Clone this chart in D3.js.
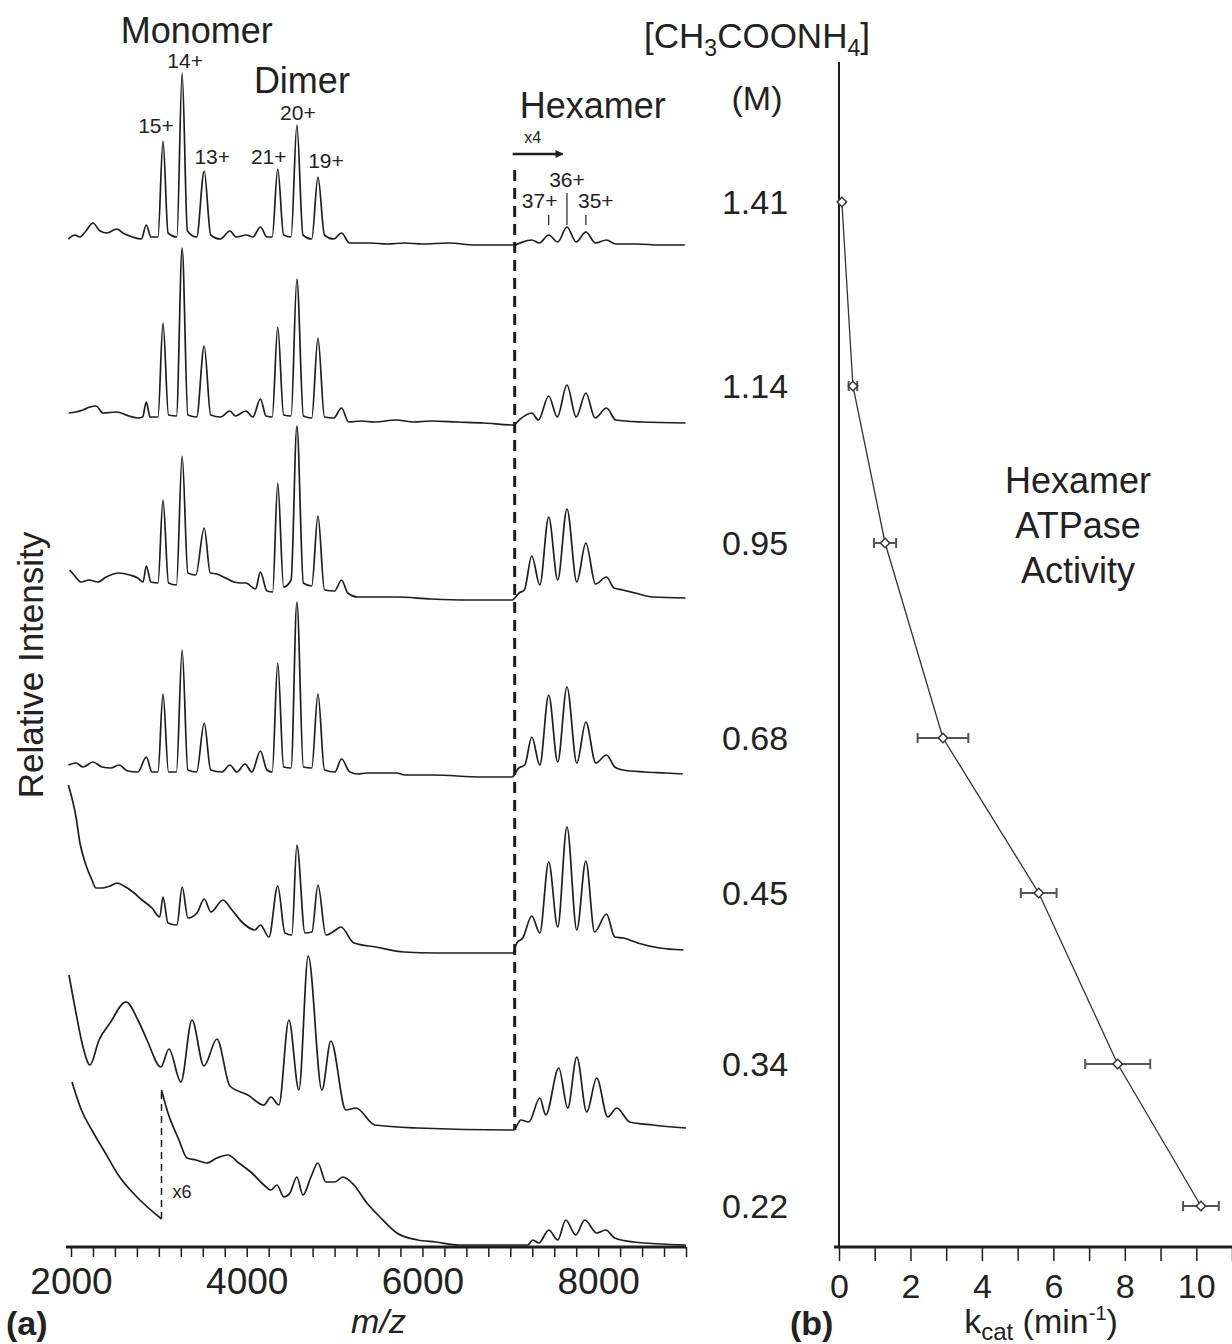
<!DOCTYPE html>
<html>
<head>
<meta charset="utf-8">
<script src="https://cdn.jsdelivr.net/npm/d3@7"></script>
<style>
  body { margin: 0; background: #fff; }
  text { font-family: "Liberation Sans", Arial, Helvetica, sans-serif; fill: #222; }
</style>
</head>
<body>
<svg id="fig" width="1232" height="1344"></svg>
<script>
// ------------------------------------------------------------
// Data
// spectra: [m/z, relative intensity] ; hexamer region (> 7050) is shown x4
// ------------------------------------------------------------
var concLabels = ["1.41", "1.14", "0.95", "0.68", "0.45", "0.34", "0.22"];

var spec141 = [[1970,3],[2045,5],[2100,4],[2170,7],[2250,11],[2330,7],[2410,6],[2520,8],[2590,6],[2700,4],[2800,3],[2857,10],[2910,4],[2990,4],[3047,52],[3105,6],[3205,4],[3265,86],[3325,7],[3430,4],[3516,37],[3590,5],[3700,3],[3809,7],[3880,4],[4000,5],[4070,4],[4156,9],[4230,4],[4290,4],[4353,38],[4420,5],[4505,4],[4571,60],[4640,5],[4740,3],[4811,34],[4885,5],[4990,3],[5079,6],[5170,1],[5400,1],[5600,0.5],[5800,1],[6000,0.5],[6300,1],[6600,0],[7050,0],[7110,1],[7245,2.5],[7330,1],[7437,5],[7540,1.5],[7645,9],[7750,1.5],[7860,6.5],[7970,1],[8095,2.5],[8200,0.5],[8450,0.5],[8700,0],[8985,0]];

var spec114 = [[1975,5],[2055,5.5],[2135,6.5],[2215,8],[2285,8.5],[2365,5],[2520,5.5],[2660,3.5],[2760,2.5],[2815,3],[2857,10.5],[2900,3],[2990,3],[3047,50],[3110,4],[3200,3.5],[3265,87.5],[3330,4],[3430,3],[3516,38.5],[3590,4],[3700,3],[3809,6],[3870,3.5],[3990,6],[4070,3],[4156,12],[4220,3.5],[4290,3],[4353,48],[4420,4],[4505,3.5],[4571,72],[4645,3.5],[4740,2.5],[4811,42.5],[4885,3],[4990,2.5],[5079,7.5],[5160,0.5],[5300,1],[5450,0.5],[5700,1.5],[5900,0.5],[6100,1],[6400,0.5],[6700,0],[7040,-1],[7100,1.5],[7245,5],[7320,1.5],[7437,13.5],[7535,3],[7645,19],[7750,3],[7860,15],[7965,2.5],[8095,7.5],[8200,1.5],[8500,0.5],[8995,0]];

var spec095 = [[1985,15],[2035,12.5],[2115,9],[2205,10],[2305,9],[2400,11.5],[2545,13.5],[2670,12.5],[2760,11],[2820,9],[2857,17],[2910,9],[2990,8.5],[3047,50],[3110,8.5],[3200,7.5],[3265,72],[3330,13.5],[3420,12.5],[3516,36],[3585,13.5],[3660,13],[3760,11],[3855,9],[3935,8.5],[3990,8.5],[4100,5.5],[4156,14],[4230,4.5],[4295,4],[4353,58.5],[4420,6.5],[4505,10],[4571,87],[4645,8.5],[4740,7],[4811,42],[4885,5],[5000,4.5],[5079,10],[5150,3.5],[5265,1.5],[5500,1.5],[5700,1.5],[6100,0.5],[6500,0],[7020,0],[7100,3.5],[7160,5],[7245,22],[7336,7.5],[7437,41.5],[7540,10],[7645,45.5],[7757,9],[7860,28.5],[7970,8],[8095,11.5],[8180,6],[8280,5],[8420,3.5],[8620,1.5],[8995,1]];

var spec068 = [[1970,6.5],[2057,7.5],[2137,5.5],[2250,8],[2353,5.5],[2455,5],[2546,6.5],[2648,3.5],[2762,3],[2857,10.5],[2922,3],[2990,3],[3047,42],[3110,3],[3200,3],[3265,64],[3330,4],[3430,3],[3516,27.5],[3590,4],[3718,3],[3809,6.5],[3888,3],[3980,7],[4059,3],[4156,13.5],[4230,4],[4290,3],[4353,57.5],[4420,5.5],[4505,5],[4571,88],[4645,5.5],[4740,5],[4811,42],[4885,4],[5003,3],[5079,9.5],[5174,3],[5265,2],[5368,2.5],[5516,2.5],[5709,2.5],[5800,1.5],[6118,1.5],[6676,0.5],[7017,0.5],[7097,5],[7165,6.5],[7245,20.5],[7336,6.5],[7437,41.5],[7540,8],[7645,45.5],[7757,7.5],[7860,28],[7973,7.5],[8095,11.5],[8189,5.5],[8280,4],[8530,3],[8769,2.5],[8963,2]];

var spec045 = [[1970,84],[2057,68],[2102,55],[2159,45.5],[2239,36.5],[2284,32.5],[2364,32.5],[2444,33.5],[2523,35],[2603,33.5],[2705,30.5],[2808,26.5],[2922,22.5],[3010,18],[3047,28],[3104,15],[3206,14],[3265,33],[3331,17.5],[3434,20],[3516,27],[3593,20.5],[3729,26.5],[3832,21.5],[3957,15],[4093,11.5],[4156,14],[4253,8],[4353,33.5],[4435,10],[4514,9],[4571,54],[4663,10],[4742,10.5],[4811,34],[4901,9],[4981,10.5],[5072,13],[5220,5],[5470,3],[5789,0.5],[6153,0],[6676,0],[7028,0],[7074,5],[7142,7.5],[7245,18.5],[7336,10],[7437,45.5],[7540,13],[7645,63],[7757,11.5],[7860,46],[7960,10.5],[8095,19.5],[8189,8],[8290,7.5],[8450,5],[8700,2.5],[8970,1.5]];

var spec034 = [[1977,77.5],[2057,58.5],[2137,41.5],[2216,32.5],[2319,45],[2444,53.5],[2626,64],[2762,55],[2865,45],[3024,31.5],[3115,40.5],[3251,24],[3377,55],[3513,32],[3661,45.5],[3809,22],[4014,17.5],[4196,12.5],[4275,16.5],[4366,12.5],[4480,55],[4594,20],[4700,87],[4856,20],[4958,44.5],[5129,10],[5243,11],[5459,2.5],[5948,1],[7040,0],[7120,5],[7211,4],[7336,16],[7404,7.5],[7552,31],[7654,11],[7757,36.5],[7870,9],[7984,26],[8109,6.5],[8212,11],[8360,4],[8621,2.5],[9000,1]];

// 0.22 M: low m/z part at x1, rest at x6
var spec022low = [[2011,81.5],[2114,68],[2250,56.5],[2398,45.5],[2546,34.5],[2739,24.5],[3030,13]];
var spec022 = [[3030,77.5],[3104,66],[3229,52.5],[3320,43.5],[3422,42.5],[3547,41],[3661,43.5],[3786,45],[3911,41],[4059,36],[4196,30],[4275,27.5],[4344,30],[4423,24],[4492,26],[4571,34],[4640,25],[4731,34],[4810,41],[4901,31.5],[5003,31.5],[5094,34],[5220,30],[5368,21],[5516,14],[5709,6],[5948,2.5],[6153,1.5],[6414,0],[7199,0],[7256,2.5],[7325,1],[7438,7.5],[7540,2.5],[7631,12.5],[7745,5],[7848,12.5],[7984,6],[8087,7.5],[8189,3.5],[8405,1.5],[8997,0]];

var spectra = [spec141, spec114, spec095, spec068, spec045, spec034, spec022];

// panel (b): hexamer ATPase activity
var kcat    = [0.08, 0.39, 1.29, 2.91, 5.59, 7.80, 10.13];
var kcatErr = [0, 0.12, 0.31, 0.71, 0.50, 0.91, 0.50];

// charge-state annotations (top spectrum)
var chargeLabels = [
  {text: "15+", mz: 3047, h: 52, dx: -7, dy: -8},
  {text: "14+", mz: 3265, h: 86, dx: 3,  dy: -5},
  {text: "13+", mz: 3516, h: 37, dx: 8,  dy: -7},
  {text: "21+", mz: 4353, h: 38, dx: -9, dy: -5},
  {text: "20+", mz: 4571, h: 60, dx: 1,  dy: -5},
  {text: "19+", mz: 4811, h: 34, dx: 8,  dy: -9}
];
var hexLabels = [
  {text: "37+", mz: 7437},
  {text: "36+", mz: 7645},
  {text: "35+", mz: 7860}
];
var mzTicks = d3.range(2000, 9001, 250);
var kTicks = d3.range(0, 12, 1);

// ------------------------------------------------------------
// Layout
// ------------------------------------------------------------
var svg = d3.select("#fig");
var ink = "#1e1e1e";
var axisY = 1247;
var traceBase = [245, 423, 600, 778, 953, 1130, 1245];   // baseline of each stacked spectrum
var rowY = [202, 386, 543, 738, 893, 1064, 1206];        // concentration rows (labels, panel b)
var magnifyMz = 7050, x6Mz = 3030;

var x = d3.scaleLinear().domain([2000, 9000]).range([71, 686]);
function yTrace(i) {
  return d3.scaleLinear().domain([0, 100]).range([traceBase[i], traceBase[i] - 200]);
}
function specLine(yS) {
  return d3.line().x(d => x(d[0])).y(d => yS(d[1])).curve(d3.curveMonotoneX);
}

// ---------------- panel (a) ----------------
var pa = svg.append("g");

spectra.forEach(function(s, i) {
  pa.append("path")
    .datum(s)
    .attr("d", specLine(yTrace(i)))
    .attr("fill", "none")
    .attr("stroke", ink)
    .attr("stroke-width", 1.7)
    .attr("stroke-linejoin", "round");
});

// low m/z piece of the 0.22 M spectrum and its x6 break
var y022 = yTrace(6);
pa.append("path")
  .datum(spec022low)
  .attr("d", specLine(y022))
  .attr("fill", "none").attr("stroke", ink).attr("stroke-width", 1.7);

pa.append("line")
  .attr("x1", x(x6Mz)).attr("x2", x(x6Mz))
  .attr("y1", y022(spec022low[spec022low.length - 1][1]))
  .attr("y2", y022(spec022[0][1]))
  .attr("stroke", ink).attr("stroke-width", 1.5)
  .attr("stroke-dasharray", "7,5");

pa.append("text")
  .attr("x", x(x6Mz) + 11).attr("y", 1198)
  .attr("font-size", 18).text("x6");

// x4 boundary for hexamer region
pa.append("line")
  .attr("x1", x(magnifyMz)).attr("x2", x(magnifyMz))
  .attr("y1", 170).attr("y2", traceBase[5])
  .attr("stroke", ink).attr("stroke-width", 3)
  .attr("stroke-dasharray", "11,7");

// arrow + x4
svg.append("defs").append("marker")
  .attr("id", "arrow").attr("viewBox", "0 0 10 10")
  .attr("refX", 9).attr("refY", 5)
  .attr("markerWidth", 8).attr("markerHeight", 8)
  .attr("markerUnits", "userSpaceOnUse")
  .attr("orient", "auto")
  .append("path").attr("d", "M0,0 L10,5 L0,10 z").attr("fill", ink);

pa.append("line")
  .attr("x1", x(magnifyMz) - 2).attr("x2", x(magnifyMz) + 48)
  .attr("y1", 154).attr("y2", 154)
  .attr("stroke", ink).attr("stroke-width", 2.5)
  .attr("marker-end", "url(#arrow)");

pa.append("text")
  .attr("x", x(magnifyMz) + 18).attr("y", 143)
  .attr("text-anchor", "middle").attr("font-size", 16).text("x4");

// group titles
var titles = [
  {text: "Monomer", mz: 3432, y: 43},
  {text: "Dimer", mz: 4628, y: 93},
  {text: "Hexamer", mz: 7938, y: 118}
];
pa.selectAll(".title").data(titles).enter().append("text")
  .attr("x", d => x(d.mz)).attr("y", d => d.y)
  .attr("text-anchor", "middle").attr("font-size", 36)
  .text(d => d.text);

// charge states
var yTop = yTrace(0);
pa.selectAll(".charge").data(chargeLabels).enter().append("text")
  .attr("x", d => x(d.mz) + d.dx)
  .attr("y", d => yTop(d.h) + d.dy)
  .attr("text-anchor", "middle").attr("font-size", 21)
  .text(d => d.text);

pa.selectAll(".hexlab").data(hexLabels).enter().append("text")
  .attr("x", (d, i) => x(d.mz) + (i === 0 ? -9 : i === 2 ? 10 : 0))
  .attr("y", (d, i) => i === 1 ? 187 : 208)
  .attr("text-anchor", "middle").attr("font-size", 21)
  .text(d => d.text);

pa.selectAll(".hextick").data(hexLabels).enter().append("line")
  .attr("x1", d => x(d.mz)).attr("x2", d => x(d.mz))
  .attr("y1", (d, i) => i === 1 ? 193 : 215).attr("y2", 225)
  .attr("stroke", ink).attr("stroke-width", 1.2);

// m/z axis
var xAxis = d3.axisBottom(x)
  .tickValues(mzTicks)
  .tickSize(10).tickSizeOuter(0).tickPadding(11)
  .tickFormat(d => d % 2000 === 0 ? d : "");

var gx = pa.append("g")
  .attr("transform", `translate(0, ${axisY})`)
  .call(xAxis);
gx.select(".domain").attr("stroke", ink).attr("stroke-width", 3)
  .attr("d", `M${x(2000) - 5},0H${x(9000)}`);
gx.selectAll(".tick line").attr("stroke", ink).attr("stroke-width", 1.5);
gx.selectAll(".tick text")
  .attr("font-size", 37).attr("fill", "#222")
  .attr("font-family", "Liberation Sans, Arial, sans-serif");

pa.append("text")
  .attr("x", x(5500)).attr("y", 1333)
  .attr("text-anchor", "middle").attr("font-size", 34)
  .attr("font-style", "italic").text("m/z");

pa.append("text")
  .attr("x", 6).attr("y", 1335)
  .attr("font-size", 34).attr("font-weight", "bold").text("(a)");

pa.append("text")
  .attr("transform", "translate(43, 665) rotate(-90)")
  .attr("text-anchor", "middle").attr("font-size", 35)
  .text("Relative Intensity");

// concentration column
var conc = svg.append("g");
var head = conc.append("text")
  .attr("x", 757).attr("y", 48)
  .attr("text-anchor", "middle").attr("font-size", 35);
head.append("tspan").text("[CH");
head.append("tspan").attr("font-size", 23).attr("dy", 8).text("3");
head.append("tspan").attr("dy", -8).text("COONH");
head.append("tspan").attr("font-size", 23).attr("dy", 8).text("4");
head.append("tspan").attr("dy", -8).text("]");

conc.append("text")
  .attr("x", 757).attr("y", 110)
  .attr("text-anchor", "middle").attr("font-size", 34).text("(M)");

conc.selectAll(".cl").data(concLabels).enter().append("text")
  .attr("x", 755).attr("y", (d, i) => rowY[i])
  .attr("dy", "0.36em")
  .attr("text-anchor", "middle").attr("font-size", 34)
  .text(d => d);

// ---------------- panel (b) ----------------
var pb = svg.append("g");
var xk = d3.scaleLinear().domain([0, 11]).range([839, 1232]);
var yRow = d3.scaleOrdinal().domain(concLabels).range(rowY);

pb.append("line")
  .attr("x1", xk(0)).attr("x2", xk(0))
  .attr("y1", 62).attr("y2", axisY)
  .attr("stroke", ink).attr("stroke-width", 2);

var kAxis = d3.axisBottom(xk)
  .tickValues(kTicks)
  .tickSize(14).tickSizeOuter(0).tickPadding(13)
  .tickFormat(d => d % 2 === 0 && d <= 10 ? d : "");

var gk = pb.append("g")
  .attr("transform", `translate(0, ${axisY})`)
  .call(kAxis);
gk.select(".domain").attr("stroke", ink).attr("stroke-width", 3)
  .attr("d", `M${xk(0) - 5},0H${xk(11)}`);
gk.selectAll(".tick line").attr("stroke", ink).attr("stroke-width", 1.5);
gk.selectAll(".tick text")
  .attr("font-size", 34).attr("fill", "#222")
  .attr("font-family", "Liberation Sans, Arial, sans-serif");

var pts = concLabels.map((c, i) => ({c: c, k: kcat[i], e: kcatErr[i]}));

pb.append("path")
  .datum(pts)
  .attr("d", d3.line().x(d => xk(d.k)).y(d => yRow(d.c)))
  .attr("fill", "none").attr("stroke", "#333").attr("stroke-width", 1.3);

var eb = pb.selectAll(".eb").data(pts.filter(d => d.e > 0)).enter().append("g")
  .attr("stroke", "#555").attr("stroke-width", 2);
eb.append("line")
  .attr("x1", d => xk(d.k - d.e)).attr("x2", d => xk(d.k + d.e))
  .attr("y1", d => yRow(d.c)).attr("y2", d => yRow(d.c));
eb.append("line")
  .attr("x1", d => xk(d.k - d.e)).attr("x2", d => xk(d.k - d.e))
  .attr("y1", d => yRow(d.c) - 5).attr("y2", d => yRow(d.c) + 5);
eb.append("line")
  .attr("x1", d => xk(d.k + d.e)).attr("x2", d => xk(d.k + d.e))
  .attr("y1", d => yRow(d.c) - 5).attr("y2", d => yRow(d.c) + 5);

pb.selectAll(".pt").data(pts).enter().append("path")
  .attr("d", d3.symbol(d3.symbolSquare, 45))
  .attr("transform", d => `translate(${xk(d.k)}, ${yRow(d.c)}) rotate(45)`)
  .attr("fill", "#fff").attr("stroke", "#333").attr("stroke-width", 1.5);

var note = pb.append("text")
  .attr("text-anchor", "middle").attr("font-size", 36);
["Hexamer", "ATPase", "Activity"].forEach(function(w, i) {
  note.append("tspan").attr("x", 1078).attr("y", 493 + i * 45).text(w);
});

var kl = pb.append("text")
  .attr("x", 1041).attr("y", 1333)
  .attr("text-anchor", "middle").attr("font-size", 34);
kl.append("tspan").text("k");
kl.append("tspan").attr("font-size", 24).attr("dy", 7).text("cat");
kl.append("tspan").attr("dy", -7).text(" (min");
kl.append("tspan").attr("font-size", 20).attr("dy", -13).text("-1");
kl.append("tspan").attr("dy", 13).text(")");

pb.append("text")
  .attr("x", 790).attr("y", 1335)
  .attr("font-size", 34).attr("font-weight", "bold").text("(b)");
</script>
</body>
</html>
